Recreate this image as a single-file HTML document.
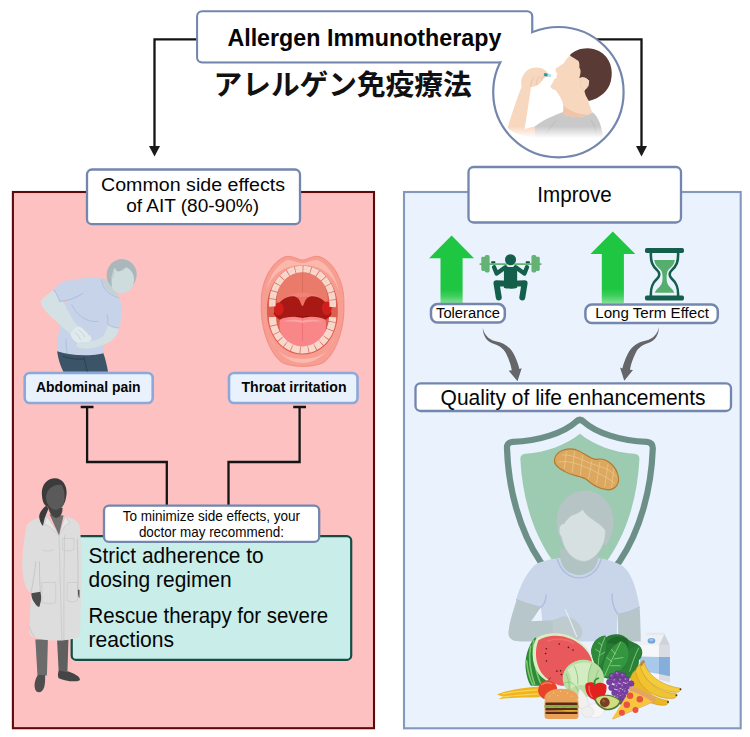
<!DOCTYPE html>
<html><head><meta charset="utf-8"><title>Allergen Immunotherapy</title>
<style>
html,body{margin:0;padding:0;background:#fff;}
body{width:750px;height:737px;overflow:hidden;font-family:"Liberation Sans",sans-serif;}
svg{display:block;}
text{font-family:"Liberation Sans",sans-serif;fill:#050505;}
.b{font-weight:bold;}
.box{fill:#fff;stroke:#7386ad;stroke-width:2.3;}
.lbox{fill:#e9f2fc;stroke:#8ba8da;stroke-width:2.6;}
.ln{fill:none;stroke:#141414;stroke-width:2.3;}
</style></head><body>
<svg width="750" height="737" viewBox="0 0 750 737">
<defs>
<linearGradient id="gar" x1="0" y1="0" x2="0" y2="1">
<stop offset="0" stop-color="#1ec641"/><stop offset="0.8" stop-color="#1ec641"/><stop offset="0.9" stop-color="#40cf5d"/><stop offset="1" stop-color="#7fe094"/>
</linearGradient>
</defs>
<rect width="750" height="737" fill="#fff"/>

<!-- PANELS -->
<rect id="lpanel" x="12.9" y="192" width="361.1" height="536.2" fill="#fdc1c1" stroke="#5e0a0a" stroke-width="2.1"/>
<rect id="rpanel" x="404" y="192" width="336.7" height="536.3" fill="#eaf2fd" stroke="#8398bc" stroke-width="2.1"/>

<!-- TOP CONNECTORS -->
<g id="toparrows">
<path class="ln" d="M197,39.3 H154.5 V147"/>
<path d="M149,146 H160 L154.5,156.5 Z" fill="#1a1a1a"/>
<path class="ln" d="M596,39.3 H641.5 V147"/>
<path d="M636,146 H647 L641.5,156.5 Z" fill="#1a1a1a"/>
</g>

<!-- TITLE -->
<text id="jp" x="213.6" y="94.5" font-size="28.7" font-weight="bold" textLength="258" lengthAdjust="spacing" style="font-family:'Liberation Sans','Noto Sans CJK JP',sans-serif;fill:#111;">アレルゲン免疫療法</text>

<!-- CIRCLE -->
<g id="circle">
<rect id="titlebox" class="box" x="197.2" y="11.4" width="335" height="51" rx="5"/>
<circle cx="558.4" cy="92.2" r="65.2" fill="#fff"/>
<g id="boy">
<defs>
<linearGradient id="boyfade" gradientUnits="userSpaceOnUse" x1="0" y1="560" x2="0" y2="622">
<stop offset="0" stop-color="#fff" stop-opacity="0"/><stop offset="1" stop-color="#fff" stop-opacity="1"/>
</linearGradient>
</defs>
<g transform="translate(490,20) scale(0.18997)">
<!-- upper arm / forearm -->
<path d="M92,568 C110,510 140,420 166,352 C158,318 172,282 200,262 C230,244 272,248 296,268 L306,286 C300,302 282,306 272,320 C262,342 240,352 216,352 C206,420 192,520 182,574 L242,558 L240,618 C180,612 120,596 92,568 Z" fill="#f8d7bf"/>
<!-- shirt -->
<path d="M236,562 C270,530 330,506 380,486 C420,512 490,514 540,486 C572,510 586,560 594,604 L592,620 C480,630 340,630 238,618 Z" fill="#c9c9c9"/>
<path d="M300,600 C310,570 330,545 350,530 M560,600 C555,570 545,545 530,525" fill="none" stroke="#b5b5b5" stroke-width="4"/>
<!-- neck and face -->
<path d="M422,184 C406,200 396,214 388,228 L345,257 C344,270 351,280 356,286 C350,292 348,298 352,303 C344,308 338,312 336,318 C330,330 322,340 318,350 C322,362 334,368 346,370 C366,396 380,420 386,450 C389,470 386,484 380,490 C420,520 496,516 540,488 C530,470 520,440 516,420 L500,390 C492,340 482,250 466,214 Z" fill="#f8d7bf"/>
<path d="M386,450 C389,470 386,484 380,490 C420,516 480,516 520,498 C470,500 420,480 386,450 Z" fill="#efc4a8"/>
<!-- hair -->
<path d="M420,186 C450,150 520,134 576,164 C632,196 652,260 636,322 C624,372 580,412 520,426 C505,402 498,386 497,372 C512,356 522,340 522,320 C500,294 478,300 470,306 C478,280 480,262 470,250 C472,236 470,226 466,216 C450,206 432,196 420,186 Z" fill="#5a3a34"/>
<!-- ear -->
<ellipse cx="497" cy="334" rx="22" ry="29" fill="#f8d7bf" stroke="#ecc4aa" stroke-width="3"/>
<!-- fingers -->
<path d="M216,350 C214,330 220,312 232,300 M246,340 C244,322 250,306 262,296 M272,320 C272,306 278,296 288,290" fill="none" stroke="#e6b89c" stroke-width="3.5" stroke-linecap="round"/>
<!-- pill -->
<g transform="rotate(12 302 290)">
<rect x="283" y="282" width="40" height="16" rx="8" fill="#b5e3e6"/>
<path d="M291,282 H303 V298 H291 A8,8 0 0 1 291,282 Z" fill="#2e9aa0"/>
</g>
<rect x="60" y="556" width="560" height="80" fill="url(#boyfade)"/>
</g>

</g>
<circle cx="558.4" cy="92.2" r="65.2" fill="none" stroke="#7386ad" stroke-width="2.2"/>
<rect x="198.3" y="12.5" width="332.8" height="48.8" rx="4" fill="#fff"/>
<text id="t_title" class="b" x="364.4" y="45.5" font-size="24" text-anchor="middle" textLength="274" lengthAdjust="spacingAndGlyphs">Allergen Immunotherapy</text>
</g>

<!-- LEFT HEADER -->
<rect class="box" x="87" y="169.5" width="213" height="54.7" rx="5"/>
<text id="t_c1" x="193" y="190.7" font-size="19.2" text-anchor="middle" textLength="184" lengthAdjust="spacingAndGlyphs">Common side effects</text>
<text id="t_c2" x="192.6" y="211.7" font-size="19.2" text-anchor="middle" textLength="132.8" lengthAdjust="spacingAndGlyphs">of AIT (80-90%)</text>

<!-- RIGHT HEADER -->
<rect class="box" x="468.5" y="167" width="212.5" height="55.5" rx="5"/>
<text id="t_imp" x="574.5" y="202.3" font-size="21.5" text-anchor="middle" textLength="74.4" lengthAdjust="spacingAndGlyphs">Improve</text>

<!-- LEFT FIGURES -->
<g id="abdo">
<g transform="translate(35,275) scale(0.12212)">
<!-- pants -->
<path d="M180,618 C300,660 450,665 558,636 C575,680 590,740 598,792 L232,792 C205,740 188,680 180,618 Z" fill="#3c5467"/>
<path d="M400,670 C408,710 420,750 428,792 M225,665 C280,685 345,692 400,688" fill="none" stroke="#2b3f50" stroke-width="8"/>
<!-- torso -->
<path d="M250,50 C330,30 420,22 500,20 C530,22 560,30 575,40 C590,100 620,150 690,185 C716,250 712,360 690,432 C660,438 620,420 595,405 C580,470 565,560 558,640 C450,668 300,662 180,624 C178,560 186,490 205,420 C225,370 245,310 250,235 L250,222 L200,215 C190,180 175,150 155,120 C170,90 210,65 250,50 Z" fill="#c7d3e8"/>
<path d="M545,35 C550,100 590,160 690,187 M595,405 C600,380 598,350 590,320 M255,520 C250,560 255,600 265,640 M300,240 C340,330 420,390 520,380" fill="none" stroke="#a9b6da" stroke-width="6"/>
<!-- far arm -->
<path d="M157,124 C110,150 60,185 45,218 C50,252 80,292 130,340 C190,396 250,450 290,482 C300,520 330,556 380,566 C420,566 456,546 463,520 C440,470 400,436 350,420 C320,380 280,320 255,262 C245,240 235,226 225,214 L200,215 C195,190 180,160 157,124 Z" fill="#d3e1e5"/>
<path d="M290,482 C300,520 330,556 380,566 C420,566 456,546 463,520 C440,470 400,436 350,420 C330,430 305,455 290,482 Z" fill="#dfeaed"/>
<path d="M330,470 C350,490 365,510 372,530 M360,450 C382,468 398,488 408,508 M395,440 C415,455 430,472 440,490" fill="none" stroke="#bccbd0" stroke-width="6" stroke-linecap="round"/>
<!-- sleeve edge -->
<path d="M155,120 C180,160 195,190 200,215 C260,215 330,190 392,150" fill="none" stroke="#a9b6da" stroke-width="7"/>
<!-- neck -->
<path d="M545,35 C575,25 600,40 615,60 C640,100 670,150 690,185 C620,160 560,100 545,35 Z" fill="#c3d1d5"/>
<!-- near arm -->
<path d="M595,405 C620,420 660,438 690,432 C680,470 660,510 630,536 C580,572 480,602 400,602 C370,602 340,592 335,576 C340,556 370,546 400,549 C450,552 520,532 560,500 C580,470 590,440 595,405 Z" fill="#d3e1e5"/>
<path d="M595,405 C620,420 660,438 690,432" fill="none" stroke="#a9b6da" stroke-width="6"/>
</g>
<g transform="translate(30,250) scale(0.16282)">
<!-- head -->
<ellipse cx="563" cy="152" rx="92" ry="96" fill="#abb8bb" transform="rotate(15 563 152)"/>
<path d="M520,108 C535,150 560,128 592,106 C640,128 654,190 622,236 C590,272 540,276 510,242 C494,212 500,150 520,108 Z" fill="#cfdcde"/>
<path d="M500,180 C515,170 520,150 520,120 C505,140 498,160 500,180 Z" fill="#c0ced1"/>
</g>

</g>
<g id="mouth">
<g transform="translate(245,250) scale(0.16289)">
<!-- outer lips -->
<path d="M100,330 C95,200 160,70 250,40 C290,32 322,60 353,62 C384,60 416,32 456,40 C546,70 612,200 607,330 C615,470 560,640 480,692 C420,722 290,722 230,692 C150,640 92,470 100,330 Z" fill="#f79d91" stroke="#ee8679" stroke-width="5"/>
<path d="M130,250 C150,150 210,80 260,62 C290,58 320,80 353,82 C386,80 416,58 446,62 C496,80 556,150 576,250 C540,150 470,92 353,92 C236,92 166,150 130,250 Z" fill="#fbb8ad"/>
<path d="M150,520 C190,630 260,690 353,694 C446,690 516,630 556,520 C520,640 440,668 353,668 C266,668 186,640 150,520 Z" fill="#fbb8ad"/>
<!-- opening -->
<path d="M135,370 C130,230 220,96 353,96 C490,96 575,230 570,370 C575,500 500,642 353,642 C210,642 130,500 135,370 Z" fill="#dd5f50"/>
<!-- palate -->
<path d="M200,330 C185,250 230,140 353,136 C476,140 520,250 506,330 C470,290 420,270 353,270 C286,270 236,290 200,330 Z" fill="#ea7a6a"/>
<path d="M353,140 V270" stroke="#d86a5c" stroke-width="5" fill="none"/>
<path d="M200,330 C236,290 286,262 353,262 C420,262 470,290 506,330 C480,300 420,288 353,288 C286,288 226,300 200,330 Z" fill="#f0827a"/>
<!-- throat -->
<path d="M176,392 C196,312 256,280 300,284 C330,288 345,328 353,340 C361,328 376,288 406,284 C450,280 512,312 532,392 C520,416 500,426 490,430 L216,430 C200,420 186,408 176,392 Z" fill="#a81814"/>
<path d="M216,430 C260,405 320,400 353,412 C386,400 446,405 490,430 C440,420 400,420 353,424 C306,420 266,420 216,430 Z" fill="#880f0c"/>
<!-- uvula -->
<path d="M322,284 C336,300 342,335 353,346 C364,335 370,300 384,284 C365,292 341,292 322,284 Z" fill="#ee7466"/>
<!-- tonsils -->
<ellipse cx="208" cy="362" rx="30" ry="40" fill="#cf1e1c"/>
<ellipse cx="502" cy="358" rx="30" ry="42" fill="#cf1e1c"/>
<!-- tongue -->
<path d="M214,428 C260,402 320,408 353,418 C386,408 446,402 494,428 C506,484 482,562 442,584 C400,598 310,598 268,584 C228,562 202,484 214,428 Z" fill="#f98688"/>
<path d="M353,418 V560" stroke="#ec6e72" stroke-width="5" fill="none"/>
<path d="M232,440 C270,424 320,426 353,434 C386,426 436,424 476,440 C440,436 396,440 353,446 C310,440 268,436 232,440 Z" fill="#fba6a4"/>
<!-- teeth -->
<path d="M168,350 C160,232 232,118 353,116 C474,118 546,232 538,350" fill="none" stroke="#f6d8cd" stroke-width="40" stroke-dasharray="44 4" stroke-dashoffset="-3"/>
<path d="M168,412 C172,522 250,612 353,614 C456,612 534,522 538,412" fill="none" stroke="#f6d8cd" stroke-width="44" stroke-dasharray="50 4 46 4 40 4 40 4 40 4"/>
<path d="M168,350 C160,232 232,118 353,116 C474,118 546,232 538,350" fill="none" stroke="#e6bfb2" stroke-width="3" stroke-dasharray="30 18" opacity="0.7"/>
</g>

</g>

<!-- LEFT LABELS -->
<rect class="lbox" x="24.7" y="373" width="128" height="30" rx="5"/>
<text id="t_abd" class="b" x="88.3" y="392.2" font-size="15.4" text-anchor="middle" textLength="104.5" lengthAdjust="spacingAndGlyphs">Abdominal pain</text>
<rect class="lbox" x="229" y="373" width="128.5" height="30" rx="5"/>
<text id="t_thr" class="b" x="294" y="392.2" font-size="15.4" text-anchor="middle" textLength="105" lengthAdjust="spacingAndGlyphs">Throat irritation</text>

<!-- INHIBITION LINES -->
<g id="tbars">
<path class="ln" d="M80.7,407 H93.5 M87.1,407 V462 H166.8 V506"/>
<path class="ln" d="M293.2,407 H306 M299.6,407 V462 H228.5 V506"/>
</g>

<!-- TEAL BOX -->
<rect id="teal" x="71.7" y="536.1" width="279.5" height="123.8" rx="4.5" fill="#c9ede8" stroke="#124e46" stroke-width="2.2"/>
<rect class="box" x="104" y="505.7" width="215.2" height="36.2" rx="5"/>
<text id="t_m1" x="211.4" y="520.7" font-size="14.6" text-anchor="middle" textLength="177.5" lengthAdjust="spacingAndGlyphs">To minimize side effects, your</text>
<text id="t_m2" x="211.4" y="536.9" font-size="14.6" text-anchor="middle" textLength="145" lengthAdjust="spacingAndGlyphs">doctor may recommend:</text>
<text id="t_s1" x="88.6" y="563.2" font-size="21.3" textLength="175" lengthAdjust="spacingAndGlyphs">Strict adherence to</text>
<text id="t_s2" x="88.6" y="587.4" font-size="21.3" textLength="143" lengthAdjust="spacingAndGlyphs">dosing regimen</text>
<text id="t_s3" x="88.6" y="622.6" font-size="21.3" textLength="239.5" lengthAdjust="spacingAndGlyphs">Rescue therapy for severe</text>
<text id="t_s4" x="88.6" y="647" font-size="21.3" textLength="85.5" lengthAdjust="spacingAndGlyphs">reactions</text>

<g id="doctor">
<g transform="translate(15,470) scale(0.16293)">
<!-- legs -->
<path d="M125,1040 H202 L196,1262 H138 Z" fill="#6b6b6b"/>
<path d="M258,1040 H328 L322,1236 H268 Z" fill="#5f5f5f"/>
<!-- shoes -->
<path d="M140,1258 C120,1290 112,1330 130,1358 C150,1372 172,1360 180,1330 C186,1300 186,1275 184,1258 Z" fill="#4e4e4e"/>
<path d="M268,1232 C262,1250 262,1268 268,1278 C310,1296 370,1304 398,1290 C402,1272 380,1256 330,1236 Z" fill="#454545"/>
<!-- coat -->
<path d="M195,285 C150,292 95,300 72,340 C52,430 42,530 46,610 C50,690 72,745 98,752 L88,960 C86,990 90,1010 96,1018 C160,1052 300,1058 394,1026 C400,1000 402,960 402,900 L408,700 C412,600 410,450 396,340 C380,305 345,292 310,285 L270,400 Z" fill="#dddddd"/>
<path d="M98,752 C110,700 120,640 128,560 M150,560 C150,640 152,700 156,752 M382,420 C386,540 388,640 386,740 M88,960 C100,1000 110,1015 120,1022" fill="none" stroke="#c2c2c2" stroke-width="5"/>
<path d="M195,285 L270,400 L310,285 M270,400 C276,600 282,850 288,1044 M305,400 C300,600 300,850 300,1044" fill="none" stroke="#c2c2c2" stroke-width="4"/>
<path d="M195,285 L180,330 L215,350 L270,400 M310,285 L335,325 L305,345 L270,400" fill="#e6e6e6" stroke="#c2c2c2" stroke-width="4"/>
<!-- pockets -->
<path d="M292,420 H362 V488 C340,500 312,500 292,488 Z M165,690 H250 V812 C222,824 190,824 165,812 Z M320,690 H384 V800 C362,812 340,812 320,800 Z M165,490 C185,500 215,500 240,488" fill="none" stroke="#c6c6c6" stroke-width="4"/>
<!-- hands -->
<path d="M100,756 L156,748 C162,775 162,800 156,815 L150,840 C140,842 128,830 122,818 C108,800 100,780 100,756 Z" fill="#4c4c4c"/>
<path d="M386,735 H396 V786 C390,784 386,770 386,735 Z" fill="#4c4c4c"/>
<!-- undershirt and neck -->
<path d="M212,272 L270,400 L298,280 Z" fill="#6f6f6f"/>
<path d="M203,225 C210,262 226,290 252,294 C278,290 292,270 292,232 Z" fill="#444444"/>
<!-- head -->
<path d="M165,150 C160,90 200,50 245,50 C295,50 322,100 316,150 C313,180 305,205 292,222 C270,250 225,250 200,225 C175,215 167,185 165,150 Z" fill="#3b3b3b"/>
<path d="M200,132 C215,102 258,86 286,92 C306,122 309,170 299,206 C286,236 262,246 245,244 C220,241 200,216 193,190 C188,166 192,146 200,132 Z" fill="#5a5a5a"/>
<path d="M192,218 C170,235 150,260 148,286 C150,312 160,332 172,344 C176,320 180,300 187,284 C193,268 200,250 206,236 Z" fill="#3b3b3b"/>
</g>

</g>

<!-- RIGHT TOP -->
<g id="garrows">
<path d="M451.6,235.5 L474,258.2 H462.6 V303 H440.5 V258.2 H429.1 Z" fill="url(#gar)"/>
<path d="M612.8,231.6 L635.3,254 H623.9 V303 H601.8 V254 H590.4 Z" fill="url(#gar)"/>
</g>
<g id="lifter">
<g transform="translate(470,245) scale(0.10667)">
<!-- bar + plates -->
<rect x="88" y="170" width="584" height="18" rx="9" fill="#63b374"/>
<rect x="138" y="94" width="46" height="164" rx="16" fill="#63b374"/>
<rect x="106" y="110" width="40" height="134" rx="14" fill="#63b374"/>
<rect x="576" y="94" width="46" height="164" rx="16" fill="#63b374"/>
<rect x="614" y="110" width="40" height="134" rx="14" fill="#63b374"/>
<!-- hands grips -->
<rect x="198" y="152" width="40" height="18" rx="7" fill="#124f3f"/>
<rect x="522" y="152" width="40" height="18" rx="7" fill="#124f3f"/>
<!-- arms -->
<path d="M226,208 L250,268 L332,208 M534,208 L510,268 L428,208" fill="none" stroke="#145f4b" stroke-width="40" stroke-linecap="round" stroke-linejoin="round"/>
<!-- torso -->
<path d="M318,196 C350,210 410,210 442,196 L442,400 C410,412 350,412 318,400 Z" fill="#145f4b"/>
<!-- legs -->
<path d="M352,362 L248,358 L270,492 M408,362 L512,358 L490,492" fill="none" stroke="#145f4b" stroke-width="56" stroke-linecap="round" stroke-linejoin="round"/>
<!-- head -->
<circle cx="380" cy="138" r="58" fill="#eaf2fd"/>
<circle cx="380" cy="138" r="52" fill="#145f4b"/>
</g>

</g>
<g id="hourglass">
<g transform="translate(630,240) scale(0.09498)">
<path d="M255,210 H472 C470,250 440,282 405,312 C390,330 385,360 385,400 C385,450 400,480 430,505 C450,520 462,540 465,556 L262,556 C265,540 278,520 298,505 C328,480 343,450 343,400 C343,360 338,330 322,312 C287,282 257,250 255,210 Z" fill="#55ad6e"/>
<path d="M220,130 C215,230 235,272 290,322 C312,342 316,380 290,402 C235,452 215,500 220,590 M506,130 C511,230 491,272 436,322 C414,342 410,380 436,402 C491,452 511,500 506,590" fill="none" stroke="#145f4b" stroke-width="27"/>
<rect x="158" y="84" width="410" height="52" rx="18" fill="#145f4b"/>
<rect x="158" y="584" width="410" height="52" rx="18" fill="#145f4b"/>
</g>

</g>

<rect class="box" x="431" y="304.1" width="73.8" height="18.5" rx="6.5" style="stroke-width:2.5"/>
<text id="t_tol" x="468" y="318" font-size="15.2" text-anchor="middle" textLength="64" lengthAdjust="spacingAndGlyphs">Tolerance</text>
<rect class="box" x="585.4" y="304.5" width="132.4" height="18.5" rx="6.5" style="stroke-width:2.5"/>
<text id="t_lte" x="652.1" y="318.2" font-size="15.2" text-anchor="middle" textLength="113.7" lengthAdjust="spacingAndGlyphs">Long Term Effect</text>

<g id="curved">
<path id="cv" transform="translate(470,322) scale(0.09498)" d="M134,60 C150,130 190,182 270,202 C350,216 420,260 462,340 C492,400 510,450 520,496 L544,486 L500,624 L408,512 L440,508 C430,450 410,392 380,332 C350,272 300,246 240,226 C176,200 138,150 134,60 Z" fill="#646669"/>
<path transform="translate(671.74,321.4) scale(-0.09498,0.09498)" d="M134,60 C150,130 190,182 270,202 C350,216 420,260 462,340 C492,400 510,450 520,496 L544,486 L500,624 L408,512 L440,508 C430,450 410,392 380,332 C350,272 300,246 240,226 C176,200 138,150 134,60 Z" fill="#646669"/>

</g>

<rect class="box" x="415.5" y="383.3" width="315.5" height="27.7" rx="5"/>
<text id="t_q" x="573.1" y="405" font-size="21.3" text-anchor="middle" textLength="265" lengthAdjust="spacingAndGlyphs">Quality of life enhancements</text>

<g id="shield">
<g transform="translate(495,410) scale(0.23066)">
<path d="M350,52 C300,98 190,135 78,138 Q50,140 52,168 C58,340 105,520 195,655 C240,715 300,770 368,810 C436,770 496,715 541,655 C631,520 678,340 684,168 Q686,140 658,138 C546,135 436,98 386,52 Q368,34 350,52 Z" fill="none" stroke="#6c9088" stroke-width="27" stroke-linejoin="round"/>
<path d="M368,103 C310,150 220,185 132,190 Q108,192 110,216 C118,370 160,520 240,640 C280,700 330,740 368,765 C406,740 456,700 496,640 C576,520 618,370 626,216 Q628,192 604,190 C516,185 426,150 368,103 Z" fill="#9dcbb1"/>
<!-- peanut -->
<path d="M258,214 C264,180 310,160 350,172 C390,185 410,214 440,214 C482,205 525,240 535,290 C540,322 520,346 490,346 C450,346 420,320 395,300 C370,285 330,285 300,265 C270,250 254,235 258,214 Z" fill="#dca85f" stroke="#b4782f" stroke-width="5"/>
<path d="M275,225 C330,215 400,250 440,270 C470,285 500,300 520,320 M290,195 C340,190 390,225 440,240 C480,250 510,270 528,290 M310,180 L300,255 M345,178 L335,270 M380,195 L370,285 M420,220 L405,300 M455,225 L440,320 M490,235 L475,335 M515,255 L505,338" fill="none" stroke="#ecc98f" stroke-width="3"/>
</g>

</g>
<g id="person2">
<g transform="translate(495,410) scale(0.23066)">
<!-- shirt -->
<path d="M285,642 C250,644 200,654 170,674 C130,714 105,774 92,822 C120,839 165,849 198,856 C205,894 208,964 210,1004 L530,1004 C528,964 528,914 532,886 C565,882 600,869 627,854 C615,784 595,714 560,682 C530,659 480,646 445,642 C440,682 410,712 365,714 C320,712 295,682 285,642 Z" fill="#c9d6ea"/>
<path d="M92,822 C120,839 165,849 198,856 M532,886 C565,882 600,869 627,854 M270,646 C283,696 320,728 365,728 C410,728 448,696 460,646 M508,796 C505,830 515,860 532,886 M222,800 C220,830 210,848 198,856" fill="none" stroke="#adbde0" stroke-width="6"/>
<!-- arms -->
<path d="M95,822 C80,864 62,924 58,964 C58,994 75,1004 120,1004 L340,1004 C372,994 384,970 375,950 C355,915 320,893 295,895 C275,902 260,910 250,912 L157,916 L198,856 Z" fill="#b7c6c9"/>
<path d="M250,912 C275,900 300,893 320,897 C350,908 372,930 377,955 C380,975 368,992 352,1004 L250,1004 Z" fill="#bfcccf"/>
<path d="M532,886 C560,882 600,869 627,854 C630,904 632,964 632,1004 L535,1004 Z" fill="#b7c6c9"/>
<path d="M305,864 L355,984" stroke="#e4ebf2" stroke-width="5" fill="none"/>
<!-- neck -->
<path d="M283,600 L283,642 C290,690 320,713 365,715 C410,713 440,690 447,642 L450,600 Z" fill="#b2c3c3"/>
<!-- hair -->
<path d="M268,500 C260,420 310,350 390,350 C470,350 520,420 512,500 C510,535 498,565 482,585 L300,585 C282,560 270,532 268,500 Z" fill="#b7c4c5"/>
<!-- face -->
<path d="M380,430 C400,470 450,482 478,520 C484,580 440,652 385,657 C330,652 295,600 288,548 C274,538 274,500 292,494 C300,502 305,480 330,460 C350,450 370,446 380,430 Z" fill="#d6e0e1"/>
<path d="M380,430 C400,470 450,482 478,520 C484,580 440,652 385,657 C330,652 295,600 288,548 C274,538 274,500 292,494" fill="none" stroke="#b9c6c8" stroke-width="3"/>
</g>

</g>
<g id="food">
<g transform="translate(490,625) scale(0.13569)">
<!-- milk carton -->
<g transform="translate(700,0)">
<path d="M405,148 L545,150 L545,402 L405,372 Z" fill="#f6f7f9"/>
<path d="M545,150 L626,150 L626,424 L545,402 Z" fill="#d9dce2"/>
<path d="M405,148 L458,64 L586,66 L545,150 Z" fill="#eef0f4"/>
<path d="M586,66 L626,150 L545,150 Z" fill="#cfd3da"/>
<path d="M452,58 H588 V72 H452 Z" fill="#e4e7ec"/>
<path d="M405,232 L545,236 L545,362 L405,338 Z" fill="#a9c9ea"/>
<path d="M545,236 L626,236 L626,378 L545,362 Z" fill="#86aedb"/>
<ellipse cx="490" cy="116" rx="28" ry="21" fill="#6ea3dc"/>
<ellipse cx="488" cy="111" rx="18" ry="11" fill="#9cc3ea"/>
</g>
<!-- leafy greens -->
<g transform="translate(700,0)">
<path d="M45,190 C55,110 120,70 160,88 C200,58 280,58 322,110 C352,130 422,140 422,200 C422,240 402,250 396,262 C402,300 372,350 332,392 C282,412 180,402 140,386 C100,340 50,270 45,190 Z" fill="#267a33"/>
<path d="M160,135 C180,90 250,66 305,100 C330,130 325,170 300,190 C260,150 210,130 160,135 Z" fill="#1f6a2b"/>
<path d="M300,250 C306,190 340,146 402,158 C428,190 412,232 392,250 C404,282 382,322 340,352 C318,330 300,300 300,250 Z" fill="#2a8237"/>
<path d="M45,192 C58,120 110,78 152,78 C164,140 152,232 112,302 C80,282 50,242 45,192 Z" fill="#2e8a3b"/>
<path d="M138,384 C116,300 160,180 262,118 C314,130 334,200 312,262 C292,332 200,382 138,384 Z" fill="#34963f"/>
<path d="M240,400 C250,330 300,270 380,250 C400,300 380,350 330,390 C300,405 270,410 240,400 Z" fill="#2a8237"/>
<path d="M145,375 C180,290 220,210 262,128 M200,270 L160,240 M225,215 L195,180 M215,250 L280,240 M190,300 L260,300 M98,290 C100,220 120,150 148,90 M110,200 L80,180 M125,150 L100,130 M115,220 L145,200 M330,340 C345,290 365,230 395,170" fill="none" stroke="#a9db93" stroke-width="5" stroke-linecap="round"/>
</g>
<!-- watermelon -->
<path d="M332,92 C280,150 250,250 265,340 C275,400 290,432 302,448 L470,448 L420,120 Z" fill="#2c8a3a"/>
<path d="M300,150 C285,230 290,330 330,440 M270,260 C275,330 295,400 318,446 M322,110 C312,200 330,340 380,446" fill="none" stroke="#7ec66a" stroke-width="12"/>
<path d="M340,100 C400,55 520,46 604,88 C690,126 745,200 756,262 L756,448 L500,448 C440,430 380,396 346,340 C306,270 304,176 340,100 Z" fill="#dcecc4"/>
<path d="M356,114 C410,74 520,64 598,104 C680,140 740,210 752,268 L752,448 L524,448 C470,432 408,398 374,344 C334,276 328,184 356,114 Z" fill="#e9595b"/>
<path d="M420,120 C480,95 560,100 620,135" fill="none" stroke="#f07c7c" stroke-width="10" opacity="0.6"/>
<g fill="#4a1a1a"><circle cx="415" cy="175" r="6"/><circle cx="410" cy="210" r="6"/><circle cx="416" cy="265" r="6"/><circle cx="510" cy="140" r="6"/><circle cx="578" cy="165" r="6"/><circle cx="612" cy="185" r="6"/><circle cx="493" cy="340" r="6"/><circle cx="520" cy="338" r="6"/><circle cx="526" cy="365" r="6"/></g>
<!-- bananas -->
<g transform="translate(700,0)">
<path d="M335,392 C345,350 370,330 392,322 C400,450 480,540 612,556 C620,578 604,592 580,592 C470,592 360,512 335,392 Z" fill="#eab725" stroke="#c9931a" stroke-width="4"/>
<path d="M372,342 C380,310 395,296 410,290 C430,410 530,496 672,506 C684,528 664,542 640,542 C520,542 400,472 372,342 Z" fill="#f1c330" stroke="#c9931a" stroke-width="4"/>
<path d="M404,296 C408,280 416,268 430,262 C460,370 560,444 702,466 C710,484 692,498 670,496 C560,490 440,432 404,296 Z" fill="#f4cb3a" stroke="#c9931a" stroke-width="4"/>
<path d="M404,298 C408,280 416,266 432,258 L444,270 C432,280 424,292 420,304 Z" fill="#b98a3a"/>
<circle cx="704" cy="474" r="7" fill="#4a3a20"/><circle cx="674" cy="518" r="7" fill="#4a3a20"/><circle cx="612" cy="568" r="7" fill="#4a3a20"/>
</g>
<!-- yellow beans -->
<path d="M52,512 C120,482 230,466 362,454 L368,532 C260,536 150,532 62,548 L96,528 Z" fill="#f0b51e"/>
<path d="M90,508 C170,492 270,482 362,476 M90,530 C170,520 270,512 366,508" fill="none" stroke="#f9d558" stroke-width="9"/>
<!-- cabbage -->
<ellipse cx="688" cy="394" rx="152" ry="138" fill="#b9dea6"/>
<path d="M570,330 C610,285 680,262 750,285 C726,330 716,390 728,460 C684,436 640,436 596,470 C606,410 594,366 570,330 Z" fill="#d3ecc2"/>
<path d="M545,430 C585,405 630,430 650,490 M750,285 C726,340 716,400 730,470 M620,300 C640,340 652,390 646,436 M800,330 C776,380 772,430 784,490 M560,360 C580,400 590,450 580,500" fill="none" stroke="#8ac476" stroke-width="6"/>
<!-- tomato -->
<circle cx="426" cy="480" r="72" fill="#e9422b"/>
<path d="M380,440 C400,425 430,422 455,432" stroke="#f47a60" stroke-width="10" fill="none" stroke-linecap="round"/>
<path d="M432,412 C434,400 440,392 448,388" stroke="#5a3a1a" stroke-width="6" fill="none"/>
<!-- grapes -->
<g transform="translate(700,0)" fill="#7b3fa2" stroke="#5c2a80" stroke-width="3">
<circle cx="200" cy="378" r="22"/><circle cx="240" cy="360" r="22"/><circle cx="280" cy="372" r="22"/>
<circle cx="180" cy="420" r="22"/><circle cx="222" cy="410" r="22"/><circle cx="264" cy="408" r="22"/><circle cx="304" cy="404" r="22"/><circle cx="340" cy="432" r="22"/>
<circle cx="196" cy="462" r="22"/><circle cx="238" cy="452" r="22"/><circle cx="280" cy="450" r="22"/><circle cx="316" cy="452" r="22"/>
<circle cx="218" cy="500" r="22"/><circle cx="258" cy="494" r="22"/><circle cx="298" cy="492" r="22"/>
<circle cx="244" cy="538" r="22"/><circle cx="284" cy="532" r="22"/><circle cx="268" cy="566" r="20"/>
</g>
<g transform="translate(700,0)" fill="#a574c8">
<circle cx="194" cy="372" r="7"/><circle cx="234" cy="354" r="7"/><circle cx="274" cy="366" r="7"/><circle cx="216" cy="404" r="7"/><circle cx="258" cy="402" r="7"/><circle cx="298" cy="398" r="7"/><circle cx="232" cy="446" r="7"/><circle cx="274" cy="444" r="7"/><circle cx="252" cy="488" r="7"/><circle cx="292" cy="486" r="7"/><circle cx="238" cy="532" r="7"/>
</g>
<!-- garlic / egg -->
<g transform="translate(700,0)">
<path d="M-40,470 C-10,490 20,540 30,590 C10,620 -30,625 -50,600 C-60,560 -55,510 -40,470 Z" fill="#f2f0ee" stroke="#d0ccc8" stroke-width="3"/>
<ellipse cx="74" cy="632" rx="68" ry="52" fill="#f6f6f6" stroke="#d5d5d8" stroke-width="3"/>
<ellipse cx="20" cy="640" rx="45" ry="40" fill="#efefef" stroke="#d5d5d8" stroke-width="3"/>
</g>
<!-- red pepper -->
<g transform="translate(700,0)">
<path d="M2,440 C20,415 60,420 80,435 C100,420 140,420 158,445 C165,490 140,540 110,560 C90,566 70,560 60,548 C30,540 0,500 2,440 Z" fill="#e2211f"/>
<path d="M30,450 C28,480 36,510 52,530" stroke="#f2605a" stroke-width="9" fill="none" stroke-linecap="round"/>
<path d="M70,436 C66,415 76,398 98,392" stroke="#3c8a30" stroke-width="12" fill="none" stroke-linecap="round"/>
</g>
<!-- avocado -->
<g transform="translate(700,0)">
<path d="M68,545 C110,503 202,498 268,560 C252,612 200,634 150,628 C108,612 78,582 68,545 Z" fill="#4c7a2e"/>
<path d="M80,546 C116,514 196,510 254,560 C240,602 196,620 152,616 C116,602 90,576 80,546 Z" fill="#cfdc7f"/>
<circle cx="146" cy="570" r="36" fill="#7a3f22"/><circle cx="138" cy="560" r="12" fill="#9a5a38"/>
</g>
<!-- pizza -->
<g transform="translate(700,0)">
<path d="M198,692 L338,470 C410,490 470,520 518,556 Z" fill="#f8c63e"/>
<path d="M330,452 C400,466 480,510 524,548 L508,574 C460,536 390,500 322,482 Z" fill="#e3a465"/>
<path d="M198,692 L518,556 L512,566 L210,694 Z" fill="#e8a83a"/>
<g fill="#e95340"><circle cx="332" cy="522" r="24"/><circle cx="404" cy="548" r="24"/><circle cx="308" cy="588" r="24"/><circle cx="372" cy="626" r="22"/><circle cx="272" cy="646" r="22"/></g>
</g>
<!-- burger -->
<path d="M400,548 C398,492 460,470 526,470 C592,470 654,492 652,548 Z" fill="#e9a257"/>
<rect x="402" y="546" width="250" height="146" rx="22" fill="#e9a257"/>
<rect x="408" y="572" width="238" height="20" rx="8" fill="#5b2a18"/>
<path d="M402,590 H652 V612 C630,604 610,620 590,610 C570,602 550,620 530,610 C510,602 490,620 470,610 C450,602 430,620 402,610 Z" fill="#86ae3c"/>
<rect x="408" y="612" width="238" height="18" rx="8" fill="#5b2a18"/>
<path d="M408,628 H648 L600,648 L540,632 Z" fill="#f2c832"/>
<rect x="408" y="640" width="238" height="16" rx="8" fill="#5b2a18"/>
<g fill="#f6d9a8"><circle cx="470" cy="500" r="4"/><circle cx="520" cy="490" r="4"/><circle cx="570" cy="502" r="4"/><circle cx="500" cy="520" r="4"/><circle cx="600" cy="524" r="4"/><circle cx="440" cy="524" r="4"/></g>
</g>

</g>
</svg>
</body></html>
